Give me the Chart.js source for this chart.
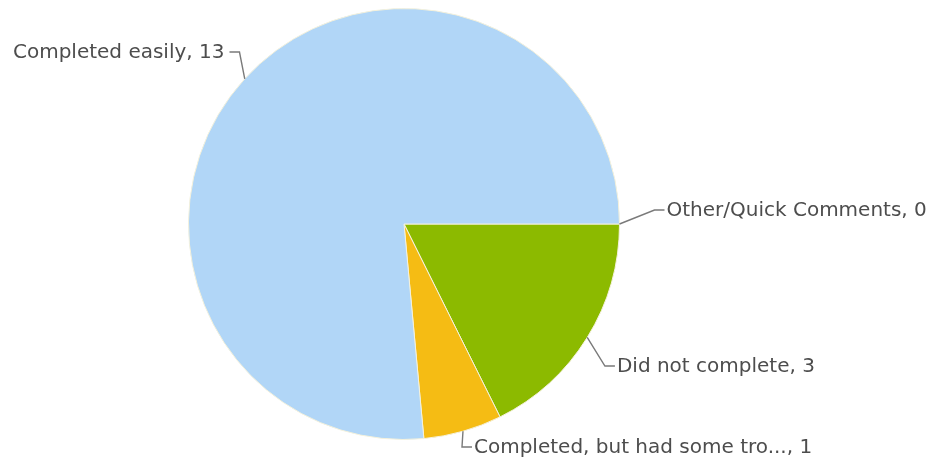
<!DOCTYPE html>
<html>
<head>
<meta charset="utf-8">
<script src="https://cdn.jsdelivr.net/npm/chart.js@4"></script>
<style>
  html, body { margin: 0; padding: 0; background: #fff; }
  #wrap { width: 936px; height: 460px; }
</style>
</head>
<body>
<div id="wrap"><canvas id="Graph" width="936" height="460"></canvas></div>
<script>
// answers, in drawing order (clockwise from 3 o'clock)
var categories = ["Other/Quick Comments", "Did not complete", "Completed, but had some tro...", "Completed easily"];
var counts = [0, 3, 1, 13];
var colors = ["#b1d6f7", "#8cba00", "#f5bc14", "#b1d6f7"];

// label elbow nudges relative to the radial point, px
var labelNudge = [[13, -14], [-1, 17], [-7, -5.5], [11, -12]];

var calloutPlugin = {
  id: "callouts",
  afterDatasetsDraw: function(chart) {
    var ctx = chart.ctx;
    var meta = chart.getDatasetMeta(0);
    ctx.save();
    ctx.font = "20px 'DejaVu Sans', Verdana, sans-serif";
    ctx.textBaseline = "middle";
    meta.data.forEach(function(arc, i) {
      var p = arc.getProps(["x", "y", "startAngle", "endAngle", "outerRadius"], true);
      var mid = (p.startAngle + p.endAngle) / 2;
      var cos = Math.cos(mid), sin = Math.sin(mid);
      var sx = p.x + cos * p.outerRadius, sy = p.y + sin * p.outerRadius;
      var ex = p.x + cos * (p.outerRadius + 22) + labelNudge[i][0];
      var ey = p.y + sin * (p.outerRadius + 22) + labelNudge[i][1];
      var right = cos >= 0;
      var hx = ex + (right ? 10 : -10);
      ctx.strokeStyle = "#7a7a7a";
      ctx.lineWidth = 1.4;
      ctx.beginPath();
      ctx.moveTo(sx, sy);
      ctx.lineTo(ex, ey);
      ctx.lineTo(hx, ey);
      ctx.stroke();
      ctx.fillStyle = "#4d4d4d";
      ctx.textAlign = right ? "left" : "right";
      ctx.fillText(categories[i] + ", " + counts[i], hx + (right ? 2 : -5), ey + 1);
    });
    ctx.restore();
  }
};

var chart = new Chart("Graph", {
  type: "pie",
  data: {
    labels: categories,
    datasets: [{
      data: counts,
      backgroundColor: colors,
      borderColor: "#f4f1dc",
      borderWidth: 1
    }]
  },
  options: {
    responsive: false,
    animation: false,
    rotation: 90,
    layout: { padding: { left: 188, right: 316, top: 8, bottom: 20 } },
    plugins: {
      legend: { display: false },
      tooltip: { enabled: false }
    }
  },
  plugins: [calloutPlugin]
});
</script>
</body>
</html>
